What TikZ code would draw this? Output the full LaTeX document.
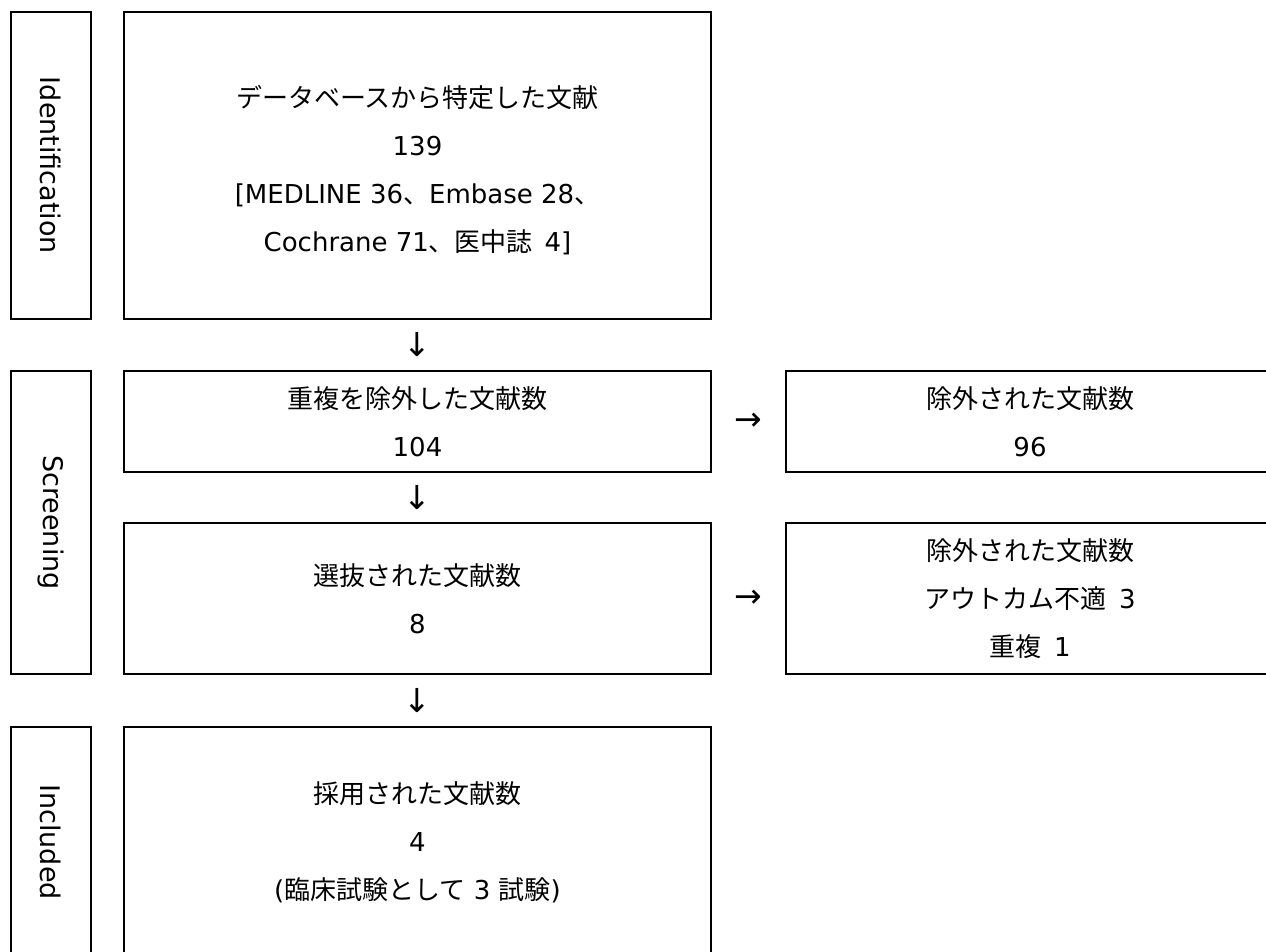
\documentclass[tikz,border=0pt]{standalone}
\usepackage{fontspec}
\setmainfont{DejaVu Sans}
\newfontfamily\cjk{Noto Sans CJK JP}
\newcommand\J[1]{{\cjk #1}}
\usetikzlibrary{calc}
\begin{document}
\begin{tikzpicture}[x=1pt,y=-1pt,line width=2pt,
  box/.style={draw,rectangle,inner sep=0pt,align=center,minimum width=587pt,font=\fontsize{26}{48}\selectfont},
  rbox/.style={box,minimum width=488pt},
  txt/.style={inner sep=0pt,align=center,font=\fontsize{26}{48}\selectfont},
  lab/.style={draw,rectangle,inner sep=0pt,minimum width=80pt,font=\fontsize{27}{32}\selectfont},
  arr/.style={inner sep=0pt,font=\fontsize{33}{36}\selectfont}]
\useasboundingbox (0,0) rectangle (1266,951);
% stage labels
\node[lab,minimum height=307pt] (l1) at (51,165.5) {\rotatebox{-90}{Identification}};
\node[lab,minimum height=303pt] (l2) at (51,522.5) {\rotatebox{-90}{Screening}};
\node[lab,minimum height=230pt] (l3) at (51,842) {\rotatebox{-90}{Included}};
% main boxes
\node[box,minimum height=307pt] (b1) at (417.5,165.5) {};
\node[txt] (t1) at ($(b1.center)+(0,5)$)
  {\J{データベースから特定した文献}\\139\\{[}MEDLINE 36\J{、}Embase 28\J{、}\\Cochrane 71\J{、医中誌}\hspace{0.45em}4]};
\node[box,minimum height=101pt] (b2) at (417.5,421.5) {\J{重複を除外した文献数}\\104};
\node[box,minimum height=151pt] (b3) at (417.5,598.5) {\J{選抜された文献数}\\8};
\node[box,minimum height=230pt] (b4) at (417.5,842) {\J{採用された文献数}\\4\\(\J{臨床試験として}\ 3\ \J{試験})};
% excluded boxes
\node[rbox,minimum height=101pt] (r1) at (1030,421.5) {\J{除外された文献数}\\96};
\node[rbox,minimum height=151pt] (r2) at (1030,598.5) {\J{除外された文献数}\\\J{アウトカム不適}\hspace{0.5em}3\\\J{重複}\hspace{0.5em}1};
% arrows (text glyphs)
\node[arr] (a1) at ($(b1.south)!0.5!(b2.north)$) {↓};
\node[arr] (a2) at ($(b2.east)!0.5!(r1.west)$) {→};
\node[arr] (a3) at ($(b2.south)!0.5!(b3.north)$) {↓};
\node[arr] (a4) at ($(b3.east)!0.5!(r2.west)$) {→};
\node[arr] (a5) at ($(b3.south)!0.5!(b4.north)$) {↓};
\end{tikzpicture}
\end{document}
